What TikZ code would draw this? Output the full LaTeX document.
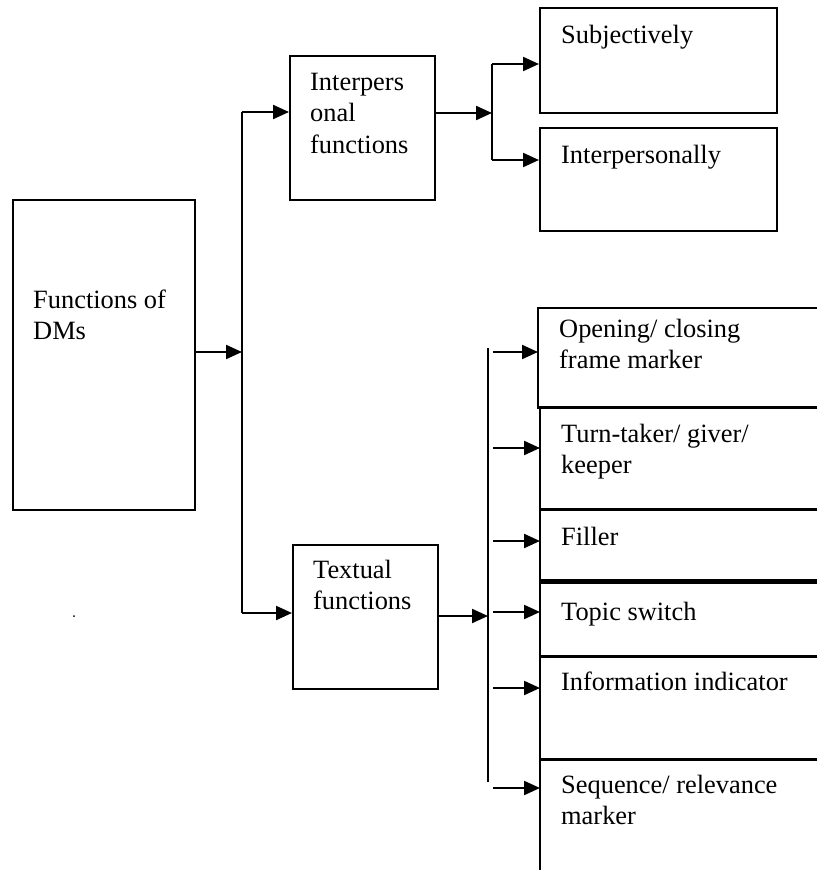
\documentclass[tikz,border=0pt]{standalone}
\usepackage{fontspec}
\setmainfont{Liberation Serif}
\usetikzlibrary{arrows.meta}
\tikzset{
  box/.style={draw, line width=2.2pt, rectangle, inner sep=0pt, anchor=north west},
  ghost/.style={rectangle, inner sep=0pt, anchor=north west},
  txt/.style={anchor=base west, inner sep=0pt, font=\fontsize{26.4}{31.5}\selectfont},
  bus/.style={line width=2.2pt},
  arr/.style={line width=2.2pt, -{Triangle[length=16pt,width=14pt]}},
  side/.style={line width=2.2pt},
}
\newcommand{\mylines}[1]{\parbox[t]{8cm}{\raggedright #1}}
\begin{document}
\begin{tikzpicture}[x=1pt,y=-1pt]
\useasboundingbox (0,0) rectangle (817,870);
% boxes
\node[box, minimum width=182pt, minimum height=310pt] (main) at (12,199) {};
\node[box, minimum width=145pt, minimum height=144pt] (inter) at (289,55) {};
\node[box, minimum width=237pt, minimum height=105pt] (subj) at (539,7) {};
\node[box, minimum width=237pt, minimum height=103pt] (intp) at (539,127) {};
\node[box, minimum width=145pt, minimum height=144pt] (textual) at (292,544) {};
% right column (open on the right)
\node[ghost, minimum width=279pt, minimum height=99pt] (open) at (538,308) {};
\node[ghost, minimum width=277pt, minimum height=101pt] (turn) at (540,408) {};
\node[ghost, minimum width=277pt, minimum height=70pt] (fill) at (540,510) {};
\node[ghost, minimum width=277pt, minimum height=73pt] (topic) at (540,583) {};
\node[ghost, minimum width=277pt, minimum height=102pt] (info) at (540,657) {};
\node[ghost, minimum width=277pt, minimum height=110pt] (seq) at (540,760) {};
\foreach \n in {open,turn,fill,topic,info}{
  \draw[side] (\n.north east) -| (\n.south west) -- (\n.south east);
}
\draw[side] (seq.north east) -| (seq.south west);
% texts
\node[txt] (tmain) at (33,308) {\mylines{Functions of\\DMs}};
\node[txt] (tinter) at (310,90) {\mylines{Interpers\\onal\\functions}};
\node[txt] (tsubj) at (561,43) {Subjectively};
\node[txt] (tintp) at (561,163) {Interpersonally};
\node[txt] (ttext) at (313,578) {\mylines{Textual\\functions}};
\node[txt] (topen) at (559,337) {\mylines{Opening/ closing\\frame marker}};
\node[txt] (tturn) at (561,442) {\mylines{Turn-taker/ giver/\\keeper}};
\node[txt] (tfill) at (561,545) {Filler};
\node[txt] (ttopic) at (561,620) {Topic switch};
\node[txt] (tinfo) at (561,690) {Information indicator};
\node[txt] (tseq) at (561,793) {\mylines{Sequence/ relevance\\marker}};
% bus 1
\coordinate (b1t) at (242,112);
\coordinate (b1m) at (242,352);
\coordinate (b1b) at (242,613);
\draw[bus] (b1t) -- (b1b);
\draw[arr] (b1m -| main.east) -- (b1m);
\draw[arr] (b1t) -- (b1t -| inter.west);
\draw[arr] (b1b) -- (b1b -| textual.west);
% bus 2
\coordinate (b2t) at (492,64);
\coordinate (b2m) at (492,113);
\coordinate (b2b) at (492,160);
\draw[bus] (b2t) -- (b2b);
\draw[arr] (b2m -| inter.east) -- (b2m);
\draw[arr] (b2t) -- (b2t -| subj.west);
\draw[arr] (b2b) -- (b2b -| intp.west);
% bus 3
\coordinate (b3t) at (488,348);
\coordinate (b3m) at (488,616);
\coordinate (b3b) at (488,782);
\draw[bus] (b3t) -- (b3b);
\draw[arr] (b3m -| textual.east) -- (b3m);
\foreach \n/\y in {open/352,turn/448,fill/541,topic/612,info/688,seq/788}{
  \coordinate (s\n) at (493,\y);
  \draw[arr] (s\n) -- (s\n -| \n.west);
}
% stray dot
\fill (74,616) circle (1pt);
\end{tikzpicture}
\end{document}
